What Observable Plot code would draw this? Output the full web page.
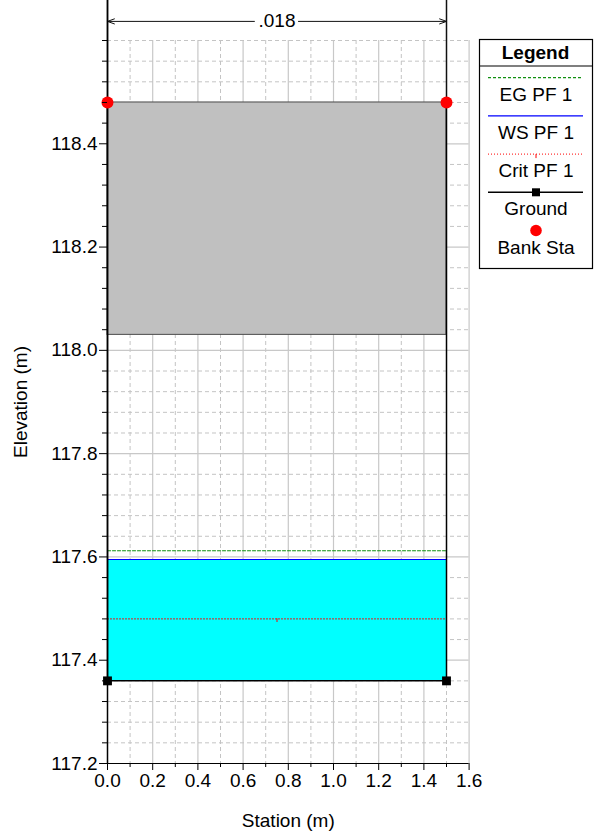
<!DOCTYPE html>
<html>
<head>
<meta charset="utf-8">
<script src="https://cdn.jsdelivr.net/npm/d3@7"></script>
<script src="https://cdn.jsdelivr.net/npm/@observablehq/plot@0.6"></script>
<style>
  html, body { margin: 0; padding: 0; background: #fff; }
  #chart svg { display: block; }
</style>
</head>
<body>
<div id="chart"></div>
<script>
// ---- Data ----
const groundStation = [0, 0, 1.5, 1.5];
const groundElev = [118.48, 117.36, 117.36, 118.48];
const bankStation = [0, 1.5];
const bankElev = [118.48, 118.48];
const deckStation = [0, 1.5];
const deckElev = [118.03, 118.48];      // low chord, high chord
const wsElev = 117.595;                 // WS PF 1
const egElev = 117.612;                 // EG PF 1
const critElev = 117.48;                // Crit PF 1
const critMarkStation = [0.75];
const manningStations = [0, 1.5];
const manningLabel = [".018"];
const annotationElev = 118.637;         // row of the n-value label above the frame
const annotationTop = 118.68;           // top of n-value marker lines

const xMajorTicks = [0.0, 0.2, 0.4, 0.6, 0.8, 1.0, 1.2, 1.4, 1.6];
const xMinorTicks = [0.1, 0.3, 0.5, 0.7, 0.9, 1.1, 1.3, 1.5];
const yMajorTicks = [117.2, 117.4, 117.6, 117.8, 118.0, 118.2, 118.4];
const yMinorTicks = [117.24, 117.28, 117.32, 117.36, 117.44, 117.48, 117.52, 117.56,
  117.64, 117.68, 117.72, 117.76, 117.84, 117.88, 117.92, 117.96,
  118.04, 118.08, 118.12, 118.16, 118.24, 118.28, 118.32, 118.36,
  118.44, 118.48, 118.52, 118.56, 118.6];

const legendNames = ["EG PF 1", "WS PF 1", "Crit PF 1", "Ground", "Bank Sta"];

// ---- Styles ----
const FONT = "'Liberation Sans', Arial, Helvetica, sans-serif";
const FS = 19;
const egColor = "#119011";
const wsColor = "#0000ff";
const critColor = "#ff0000";
const gridSolid = "#c8c8c8";
const gridDash = "#c4c4c4";

const ground = groundStation.map((x, i) => ({x, y: groundElev[i]}));
const banks = bankStation.map((x, i) => ({x, y: bankElev[i]}));
const groundPts = ground.filter(d => d.y < bankElev[0]);
const deck = [{x1: deckStation[0], x2: deckStation[1], y1: deckElev[0], y2: deckElev[1]}];
const water = [{x1: groundStation[1], x2: groundStation[2], y1: groundElev[1], y2: wsElev}];
const flatLine = (y) => [{x: groundStation[1], y}, {x: groundStation[2], y}];

const mid = (manningStations[0] + manningStations[1]) / 2;
const gap = 0.1;
const noLabel = () => "";

const chart = Plot.plot({
  width: 596,
  height: 832,
  marginLeft: 107,
  marginRight: 127.4,
  marginTop: 40,
  marginBottom: 69,
  style: {fontFamily: FONT, fontSize: FS + "px", background: "#fff", color: "#000"},
  x: {domain: [0, 1.6]},
  y: {domain: [117.2, 118.6]},
  marks: [
    // grid
    Plot.ruleX(xMinorTicks, {stroke: gridDash, strokeDasharray: "4,3", strokeWidth: 1}),
    Plot.ruleX(xMajorTicks.filter(d => d > 0), {stroke: gridSolid, strokeWidth: 1.2}),
    Plot.ruleY(yMinorTicks, {stroke: gridDash, strokeDasharray: "4,3", strokeWidth: 1}),
    Plot.ruleY(yMajorTicks.filter(d => d > 117.2), {stroke: gridSolid, strokeWidth: 1.2}),
    // deck
    Plot.rect(deck, {x1: "x1", x2: "x2", y1: "y1", y2: "y2", fill: "#c0c0c0", stroke: "#4a4a4a", strokeWidth: 1}),
    // water
    Plot.rect(water, {x1: "x1", x2: "x2", y1: "y1", y2: "y2", fill: "#00ffff"}),
    // EG, WS, Crit
    Plot.line(flatLine(egElev), {x: "x", y: "y", stroke: egColor, strokeWidth: 1.2, strokeDasharray: "3,2"}),
    Plot.line(flatLine(wsElev), {x: "x", y: "y", stroke: wsColor, strokeWidth: 1.2}),
    Plot.line(flatLine(critElev), {x: "x", y: "y", stroke: critColor, strokeWidth: 1, strokeDasharray: "1,2"}),
    Plot.ruleX(critMarkStation, {y1: critElev, y2: critElev - 0.007, stroke: critColor, strokeWidth: 1}),
    // n-value marker lines and annotation
    Plot.ruleX(manningStations, {y1: bankElev[0], y2: annotationTop, stroke: "#111", strokeWidth: 1.5}),
    Plot.arrow([0], {x1: mid - gap, x2: manningStations[0], y1: annotationElev, y2: annotationElev,
      stroke: "#111", strokeWidth: 1, headAngle: 40, headLength: 11}),
    Plot.arrow([0], {x1: mid + gap * 0.95, x2: manningStations[1], y1: annotationElev, y2: annotationElev,
      stroke: "#111", strokeWidth: 1, headAngle: 40, headLength: 11}),
    Plot.text(manningLabel, {x: mid, y: annotationElev, text: d => d, fill: "#000", fontSize: FS, textAnchor: "middle", lineAnchor: "middle"}),
    // axes lines
    Plot.ruleY([117.2], {x1: 0, x2: 1.6, stroke: "#000", strokeWidth: 1.2}),
    Plot.ruleX([0], {y1: 117.2, y2: annotationTop, stroke: "#000", strokeWidth: 1.5}),
    // ground
    Plot.line(ground, {x: "x", y: "y", stroke: "#000", strokeWidth: 1.5}),
    Plot.dot(groundPts, {x: "x", y: "y", symbol: "square", r: 5, fill: "#000"}),
    // bank stations
    Plot.dot(banks, {x: "x", y: "y", r: 6, fill: "#ff0000"}),
    // axes ticks
    Plot.axisY({ticks: yMajorTicks, tickSize: 8, tickPadding: 2, tickFormat: d3.format(".1f"), label: null, fontSize: FS}),
    Plot.axisY({ticks: yMinorTicks, tickSize: 5, tickFormat: noLabel, label: null}),
    Plot.axisX({ticks: xMajorTicks, tickSize: 7, tickPadding: 3, tickFormat: d3.format(".1f"), label: null, fontSize: FS}),
    Plot.axisX({ticks: xMinorTicks, tickSize: 4, tickFormat: noLabel, label: null}),
    // axis titles
    Plot.text(["Elevation (m)"], {frameAnchor: "left", dx: -87, rotate: -90, text: d => d, fontSize: FS, textAnchor: "middle", lineAnchor: "middle"}),
    Plot.text(["Station (m)"], {frameAnchor: "bottom", dy: 57, text: d => d, fontSize: FS, textAnchor: "middle", lineAnchor: "middle"})
  ]
});

document.getElementById("chart").appendChild(chart);

// ---- Legend box (drawn into the same SVG) ----
const svg = d3.select(chart);
const L = {x: 479, y: 39, w: 113, h: 229};
const g = svg.append("g").attr("font-family", FONT).attr("font-size", FS);
g.append("rect").attr("x", L.x + 0.5).attr("y", L.y + 0.5).attr("width", L.w).attr("height", L.h)
  .attr("fill", "#fff").attr("stroke", "#000").attr("stroke-width", 1.2);
g.append("text").attr("x", L.x + L.w / 2).attr("y", L.y + 19.5).attr("text-anchor", "middle")
  .attr("font-weight", "bold").text("Legend");
g.append("line").attr("x1", L.x).attr("x2", L.x + L.w).attr("y1", L.y + 27).attr("y2", L.y + 27)
  .attr("stroke", "#000").attr("stroke-width", 1.2);
const cx = L.x + L.w / 2 + 0.5;
const sx1 = 488, sx2 = 583;
legendNames.forEach((name, i) => {
  const sy = 77.7 + i * 38.2;
  if (i === 0) {
    g.append("line").attr("x1", sx1).attr("x2", sx2).attr("y1", sy).attr("y2", sy)
      .attr("stroke", egColor).attr("stroke-width", 1.2).attr("stroke-dasharray", "3,2");
  } else if (i === 1) {
    g.append("line").attr("x1", sx1).attr("x2", sx2).attr("y1", sy).attr("y2", sy)
      .attr("stroke", wsColor).attr("stroke-width", 1.2);
  } else if (i === 2) {
    g.append("line").attr("x1", sx1).attr("x2", sx2).attr("y1", sy).attr("y2", sy)
      .attr("stroke", critColor).attr("stroke-width", 1).attr("stroke-dasharray", "1,2");
    g.append("line").attr("x1", cx).attr("x2", cx).attr("y1", sy).attr("y2", sy + 4)
      .attr("stroke", critColor).attr("stroke-width", 1);
  } else if (i === 3) {
    g.append("line").attr("x1", sx1).attr("x2", sx2).attr("y1", sy).attr("y2", sy)
      .attr("stroke", "#000").attr("stroke-width", 1.5);
    g.append("rect").attr("x", cx - 4).attr("y", sy - 4).attr("width", 8).attr("height", 8).attr("fill", "#000");
  } else {
    g.append("circle").attr("cx", cx).attr("cy", sy).attr("r", 5.8).attr("fill", "#ff0000");
  }
  g.append("text").attr("x", cx).attr("y", sy + 23).attr("text-anchor", "middle").text(name);
});
</script>
</body>
</html>
